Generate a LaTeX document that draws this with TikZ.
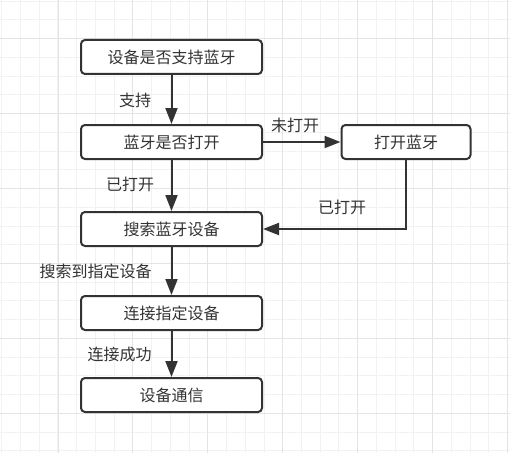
\documentclass[tikz,border=0pt]{standalone}
\usepackage{fontspec}
\setmainfont{Noto Sans CJK SC}
\usetikzlibrary{arrows.meta}
\definecolor{ink}{HTML}{333333}
\definecolor{gridminor}{HTML}{F2F2F2}
\definecolor{gridmajor}{HTML}{E4E4E4}
\tikzset{
  stepbox/.style={draw=ink, line width=1.5pt, rounded corners=3pt, fill=white,
    minimum width=135.75pt, minimum height=25.5pt, inner sep=0pt,
    font=\fontsize{12pt}{14pt}\selectfont, text=ink},
  flow/.style={draw=ink, line width=1.5pt, -{Triangle[length=12pt, width=9pt]}},
  tag/.style={inner sep=0pt, font=\fontsize{12pt}{14pt}\selectfont, text=ink}
}
\begin{document}
\begin{tikzpicture}[x=0.75pt, y=-0.75pt]
            \useasboundingbox (0,0) rectangle (510,453);
            \fill[white] (0,0) rectangle (510,453);
            \foreach \i in {0,...,27}{
                \draw[gridminor, line width=0.75pt] ({1.8+18.73*\i},0) -- ++(0,453);
                \draw[gridminor, line width=0.75pt] (0,{1.24+18.73*\i}) -- ++(510,0);
            }
            \foreach \i in {0,...,6}{
                \draw[gridmajor, line width=0.75pt] ({58+74.92*\i},0) -- ++(0,453);
                \draw[gridmajor, line width=0.75pt] (0,{38.7+74.92*\i}) -- ++(510,0);
            }
            \node[stepbox] (support) at (171.5,57) {设备是否支持蓝牙};
            \node[stepbox] (isopen) at (171.5,142) {蓝牙是否打开};
            \node[stepbox, minimum width=96.75pt] (open) at (406,142) {打开蓝牙};
            \node[stepbox] (search) at (171.5,229) {搜索蓝牙设备};
            \node[stepbox] (connect) at (171.5,313) {连接指定设备};
            \node[stepbox] (comm) at (171.5,395) {设备通信};
            \draw[flow] (support) -- (isopen);
            \draw[flow] (isopen) -- (open);
            \draw[flow] (isopen) -- (search);
            \draw[flow] (open.south) |- (search.east);
            \draw[flow] (search) -- (connect);
            \draw[flow] (connect) -- (comm);
            \node[tag] (tsupport) at (135,100) {支持};
            \node[tag] (tclosed) at (295,125) {未打开};
            \node[tag] (topened) at (130,184) {已打开};
            \node[tag] (topened2) at (342,207) {已打开};
            \node[tag] (tfound) at (95.5,271.5) {搜索到指定设备};
            \node[tag] (tlinked) at (119.5,354) {连接成功};
        \end{tikzpicture}
\end{document}
